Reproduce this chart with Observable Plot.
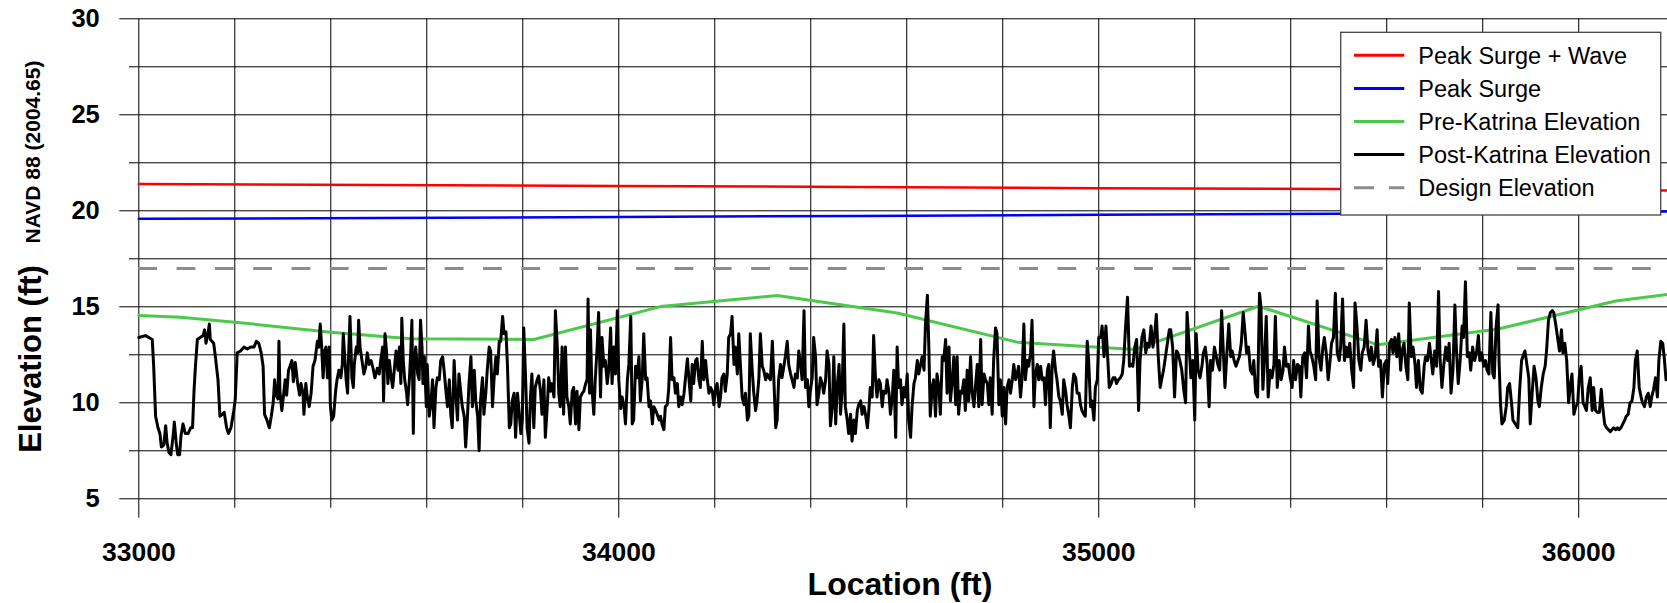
<!DOCTYPE html>
<html>
<head>
<meta charset="utf-8">
<script src="https://cdn.jsdelivr.net/npm/d3@7"></script>
<script src="https://cdn.jsdelivr.net/npm/@observablehq/plot@0.6"></script>
<style>
html,body{margin:0;padding:0;background:#fff;}
svg{display:block;}
</style>
</head>
<body>
<div id="chart"></div>
<script>
// ---------- axis ticks ----------
const yMajorTicks = [5, 10, 15, 20, 25, 30];
const yMinorTicks = [7.5, 12.5, 17.5, 22.5, 27.5];
const yGridLines = [5, 7.5, 10, 12.5, 15, 17.5, 20, 22.5, 25, 27.5, 30];
const xMajorTicks = [33000, 34000, 35000, 36000];
const xMinorTicks = [33200, 33400, 33600, 33800, 34200, 34400, 34600, 34800, 35200, 35400, 35600, 35800];
const xGridLines = [33000, 33200, 33400, 33600, 33800, 34000, 34200, 34400, 34600, 34800, 35000, 35200, 35400, 35600, 35800, 36000];

// ---------- series ----------
const seriesNames = ["Peak Surge + Wave", "Peak Surge", "Pre-Katrina Elevation", "Post-Katrina Elevation", "Design Elevation"];
const seriesColors = ["#ff0000", "#0000ff", "#4cc94c", "#000000", "#8c8c8c"];

const surgeWaveLoc  = [33000, 33500, 34000, 34500, 35000, 35500, 36000, 36185];
const surgeWaveElev = [21.39, 21.34, 21.29, 21.24, 21.18, 21.13, 21.08, 21.06];

const surgeLoc  = [33000, 33500, 34000, 34500, 35000, 35500, 36000, 36185];
const surgeElev = [19.58, 19.63, 19.68, 19.73, 19.79, 19.85, 19.93, 19.96];

const preLoc  = [33000, 33087, 33200, 33400, 33566, 33823, 34087, 34330, 34580, 34830, 35075, 35333, 35582, 35832, 36077, 36185];
const preElev = [14.55, 14.46, 14.20, 13.68, 13.33, 13.30, 15.01, 15.59, 14.68, 13.16, 12.78, 15.03, 13.02, 13.84, 15.30, 15.64];

const designElevation = 17;

const postKatrina = [
[33000,13.4],[33014,13.5],[33028,13.3],[33031,11.9],[33035,9.3],[33040,8.7],[33044,8.4],[33047,7.7],[33052,7.8],[33056,8.8],[33059,7.9],[33063,7.4],[33067,7.3],[33072,8.4],[33074,9.0],[33078,7.9],[33081,7.3],[33085,7.3],[33088,8.3],[33092,8.9],[33097,8.4],[33103,8.4],[33108,8.7],[33112,8.7],[33115,10.6],[33118,11.9],[33122,13.3],[33128,13.4],[33134,13.5],[33137,13.8],[33140,13.1],[33144,13.6],[33147,14.1],[33149,13.3],[33156,13.1],[33160,12.3],[33165,11.2],[33169,9.3],[33174,9.4],[33178,9.5],[33183,8.7],[33187,8.4],[33192,8.7],[33198,9.6],[33201,10.2],[33205,12.6],[33212,12.7],[33219,12.9],[33226,12.8],[33233,12.9],[33240,12.9],[33245,13.2],[33250,13.1],[33255,12.6],[33259,11.9],[33262,9.4],[33267,9.1],[33272,8.7],[33276,9.3],[33280,10.0],[33283,11.2],[33286,10.4],[33290,10.2],[33292,13.2],[33294,10.6],[33298,9.6],[33302,10.5],[33305,11.2],[33308,10.4],[33312,11.7],[33315,11.9],[33319,12.2],[33322,11.1],[33326,12.1],[33331,11.0],[33335,10.4],[33338,11.0],[33342,10.5],[33344,9.4],[33348,11.0],[33351,10.3],[33355,9.8],[33359,10.5],[33363,11.9],[33367,12.2],[33372,13.2],[33375,12.9],[33378,14.1],[33381,12.9],[33384,11.3],[33387,12.7],[33390,12.9],[33393,11.3],[33397,12.9],[33399,9.9],[33402,9.1],[33406,9.3],[33410,10.6],[33413,11.2],[33417,11.7],[33421,11.3],[33424,12.0],[33426,13.6],[33429,12.4],[33432,11.2],[33435,10.5],[33437,12.4],[33440,14.5],[33442,12.9],[33444,11.3],[33447,10.8],[33449,12.0],[33453,12.9],[33456,12.6],[33458,14.3],[33461,12.9],[33465,12.2],[33469,11.5],[33473,11.9],[33476,12.6],[33480,12.0],[33484,12.2],[33488,11.8],[33492,11.3],[33497,11.8],[33501,11.5],[33504,12.2],[33508,12.9],[33510,10.1],[33513,13.6],[33516,12.7],[33519,11.0],[33522,12.2],[33526,11.3],[33529,10.8],[33533,11.9],[33536,12.7],[33540,11.7],[33543,12.9],[33546,11.0],[33548,14.4],[33551,12.2],[33554,11.2],[33558,10.5],[33560,9.9],[33564,11.3],[33567,12.9],[33569,14.3],[33572,8.4],[33574,11.9],[33577,12.9],[33581,11.5],[33584,11.2],[33587,14.3],[33590,12.9],[33592,11.0],[33595,12.4],[33599,9.8],[33601,12.0],[33605,9.3],[33608,9.8],[33612,11.2],[33615,8.7],[33619,10.8],[33622,11.3],[33626,11.2],[33629,12.2],[33633,12.4],[33636,11.7],[33640,10.6],[33643,9.8],[33647,11.2],[33650,9.4],[33653,8.7],[33657,12.2],[33660,10.6],[33664,9.1],[33667,11.5],[33671,10.5],[33674,9.8],[33678,9.3],[33681,7.7],[33685,9.4],[33688,11.0],[33692,12.4],[33695,9.8],[33699,11.7],[33702,10.1],[33706,9.3],[33709,7.5],[33712,10.1],[33716,11.3],[33719,9.4],[33723,10.5],[33726,11.7],[33730,12.9],[33733,12.7],[33737,9.8],[33740,11.2],[33744,12.4],[33747,11.5],[33751,13.2],[33754,13.2],[33758,14.5],[33761,13.6],[33765,13.7],[33768,12.0],[33772,8.7],[33775,8.9],[33778,10.1],[33782,10.5],[33785,8.2],[33789,10.5],[33792,9.6],[33796,8.4],[33799,9.1],[33802,13.9],[33806,11.2],[33809,8.7],[33813,7.9],[33816,10.3],[33819,11.5],[33823,8.7],[33826,10.8],[33830,11.2],[33833,11.4],[33837,10.6],[33840,9.4],[33844,11.2],[33847,8.2],[33851,9.8],[33854,11.3],[33858,10.6],[33861,11.0],[33865,10.3],[33868,14.8],[33872,12.9],[33875,10.5],[33878,9.8],[33882,12.9],[33885,9.4],[33889,12.9],[33892,10.3],[33896,9.8],[33899,8.9],[33903,10.6],[33906,10.8],[33910,8.9],[33913,10.6],[33917,8.6],[33920,10.3],[33924,10.5],[33927,10.6],[33931,11.0],[33934,11.2],[33936,15.4],[33939,10.5],[33941,13.8],[33944,10.8],[33948,9.4],[33951,11.2],[33955,12.9],[33958,14.7],[33962,10.3],[33965,13.4],[33969,11.9],[33972,12.2],[33976,11.0],[33979,11.7],[33983,13.9],[33986,11.0],[33990,12.9],[33993,11.5],[33997,14.8],
[34000,11.2],[34004,9.7],[34007,10.3],[34011,9.8],[34014,8.9],[34018,11.2],[34021,12.0],[34025,14.5],[34028,8.9],[34031,9.1],[34035,11.9],[34038,11.3],[34042,12.4],[34045,10.1],[34049,11.3],[34052,13.6],[34056,11.2],[34059,11.3],[34063,9.8],[34066,10.1],[34070,8.9],[34073,9.8],[34077,9.6],[34080,9.4],[34084,9.1],[34087,9.3],[34090,8.9],[34094,8.6],[34097,9.8],[34101,9.9],[34104,10.7],[34108,13.4],[34111,11.2],[34115,11.3],[34118,10.5],[34122,11.0],[34125,9.8],[34129,10.3],[34132,9.9],[34136,10.5],[34139,11.3],[34143,12.3],[34146,11.3],[34150,10.1],[34153,12.0],[34156,11.0],[34160,12.2],[34163,12.3],[34167,11.2],[34170,10.8],[34174,13.2],[34177,11.2],[34181,12.2],[34184,11.3],[34188,10.5],[34191,10.8],[34195,10.6],[34198,9.9],[34202,10.8],[34205,11.0],[34209,9.8],[34212,10.3],[34215,11.3],[34219,11.5],[34222,10.6],[34226,11.5],[34229,13.4],[34233,13.6],[34236,14.5],[34240,12.0],[34243,12.9],[34247,11.5],[34250,13.6],[34254,11.7],[34257,10.3],[34261,9.9],[34264,10.5],[34268,9.1],[34271,9.3],[34274,13.6],[34278,11.7],[34281,10.6],[34285,9.6],[34288,10.1],[34292,11.3],[34295,13.6],[34299,11.9],[34302,11.7],[34306,11.2],[34309,11.5],[34313,11.3],[34316,11.2],[34320,13.2],[34323,11.3],[34327,8.7],[34330,9.1],[34333,11.2],[34337,12.0],[34340,11.3],[34344,11.9],[34347,12.4],[34351,13.2],[34354,12.0],[34358,11.5],[34361,11.2],[34365,10.8],[34368,11.5],[34372,11.3],[34375,12.7],[34379,12.0],[34382,11.2],[34386,14.8],[34389,10.8],[34393,11.2],[34396,9.8],[34399,10.6],[34403,11.3],[34406,13.4],[34410,12.4],[34413,9.9],[34417,10.5],[34420,11.3],[34424,11.0],[34427,10.5],[34431,11.2],[34434,12.7],[34438,12.0],[34441,8.8],[34445,9.8],[34448,12.4],[34452,8.9],[34455,10.8],[34459,12.0],[34462,9.4],[34465,10.5],[34469,14.1],[34472,9.8],[34476,9.1],[34479,8.4],[34483,9.4],[34486,8.0],[34490,9.1],[34493,8.4],[34497,9.6],[34500,9.9],[34504,10.1],[34507,9.4],[34511,9.8],[34514,9.4],[34518,8.7],[34521,9.6],[34524,10.8],[34528,10.3],[34531,13.5],[34535,11.2],[34538,10.3],[34542,11.2],[34545,11.0],[34549,9.8],[34552,10.6],[34556,10.5],[34559,11.2],[34563,10.5],[34566,9.4],[34570,10.3],[34573,11.7],[34577,8.2],[34580,12.9],[34583,10.8],[34587,11.2],[34590,9.9],[34594,10.8],[34597,10.3],[34601,11.5],[34604,9.1],[34608,8.2],[34611,9.8],[34615,11.0],[34618,11.3],[34622,12.2],[34625,11.5],[34629,12.0],[34632,12.4],[34636,11.7],[34639,14.1],[34643,15.6],[34646,12.9],[34649,9.3],[34653,10.8],[34656,11.2],[34660,9.3],[34663,11.5],[34667,10.8],[34670,9.4],[34674,12.4],[34677,12.2],[34681,13.3],[34684,10.5],[34688,12.9],[34691,10.1],[34695,11.2],[34698,12.4],[34702,9.9],[34705,12.4],[34708,9.4],[34712,10.6],[34715,10.5],[34719,11.2],[34722,9.6],[34726,11.7],[34729,10.1],[34733,12.4],[34736,10.6],[34740,9.8],[34743,10.8],[34747,12.0],[34750,9.8],[34754,13.3],[34757,9.9],[34761,11.5],[34764,11.2],[34768,11.0],[34771,9.9],[34774,11.3],[34778,9.4],[34781,12.2],[34785,13.9],[34788,13.6],[34792,9.9],[34795,11.2],[34799,9.3],[34802,10.8],[34806,8.9],[34809,10.8],[34813,11.2],[34816,10.5],[34820,11.2],[34823,12.0],[34827,11.2],[34830,11.5],[34833,11.9],[34837,10.3],[34840,11.2],[34844,14.1],[34847,11.2],[34851,12.2],[34854,11.9],[34858,12.6],[34861,14.3],[34865,9.8],[34868,11.5],[34872,12.0],[34875,11.2],[34879,11.9],[34882,11.2],[34886,11.3],[34889,9.9],[34893,11.7],[34896,12.0],[34899,8.7],[34903,11.9],[34906,12.7],[34910,11.7],[34913,11.2],[34917,10.3],[34920,10.1],[34924,9.4],[34927,11.2],[34931,10.6],[34934,9.9],[34938,9.3],[34941,8.7],[34945,10.8],[34948,11.5],[34952,11.3],[34955,10.5],[34959,10.5],[34962,9.9],[34965,9.6],[34969,9.4],[34972,9.3],[34976,13.2],[34979,12.2],[34983,9.8],[34986,10.1],[34990,9.1],[34993,10.8],[34997,11.2],[35000,13.4],
[35004,13.4],[35007,14.0],[35011,12.4],[35015,14.0],[35019,12.2],[35022,10.8],[35026,11.0],[35030,11.3],[35034,11.3],[35037,11.0],[35041,11.2],[35045,11.3],[35049,11.5],[35052,12.2],[35056,14.0],[35060,15.5],[35064,11.9],[35068,12.0],[35071,11.9],[35075,12.9],[35079,13.3],[35083,9.6],[35086,12.2],[35090,13.4],[35094,13.8],[35098,12.6],[35101,13.1],[35105,12.9],[35109,14.0],[35113,12.9],[35116,13.4],[35120,14.6],[35124,12.4],[35128,10.8],[35131,11.2],[35135,11.7],[35139,12.4],[35143,13.1],[35147,13.8],[35150,13.8],[35154,12.9],[35158,10.3],[35162,12.7],[35165,12.6],[35169,12.2],[35173,11.7],[35177,10.7],[35181,10.0],[35184,14.7],[35188,13.1],[35192,11.3],[35196,12.2],[35200,9.1],[35203,13.6],[35207,11.7],[35211,11.3],[35215,11.9],[35218,12.6],[35222,12.9],[35226,12.0],[35230,9.8],[35233,12.2],[35237,11.7],[35241,12.9],[35245,12.4],[35248,12.0],[35252,11.7],[35256,14.8],[35260,12.4],[35263,10.8],[35267,12.6],[35271,14.1],[35275,12.4],[35278,12.7],[35282,12.2],[35286,11.9],[35290,12.2],[35293,12.4],[35297,13.1],[35301,14.7],[35305,13.6],[35308,12.6],[35312,12.9],[35316,11.7],[35320,11.5],[35323,12.2],[35327,10.5],[35331,10.3],[35335,15.7],[35338,15.0],[35342,10.7],[35346,12.6],[35349,14.5],[35353,10.3],[35357,11.7],[35361,11.3],[35365,12.0],[35368,14.5],[35372,10.8],[35376,12.2],[35380,11.2],[35384,11.7],[35387,12.9],[35391,11.9],[35395,12.0],[35399,11.3],[35403,10.8],[35406,12.2],[35410,11.2],[35414,12.0],[35418,11.9],[35421,10.3],[35425,12.4],[35429,12.6],[35433,11.3],[35437,14.0],[35440,12.7],[35444,12.4],[35448,11.9],[35452,11.2],[35455,15.3],[35459,12.4],[35463,11.7],[35467,12.9],[35470,13.4],[35474,12.6],[35478,11.2],[35482,12.2],[35485,13.1],[35489,13.4],[35493,15.7],[35497,12.6],[35501,12.2],[35504,12.9],[35508,15.4],[35512,12.2],[35516,12.9],[35519,12.4],[35523,13.1],[35527,11.7],[35531,10.8],[35534,15.2],[35538,14.0],[35542,12.2],[35546,11.7],[35549,12.6],[35553,12.9],[35557,14.3],[35561,12.7],[35565,12.2],[35568,12.9],[35572,12.0],[35576,12.4],[35580,13.8],[35583,11.9],[35587,12.2],[35591,10.3],[35595,12.0],[35599,12.2],[35602,11.0],[35606,13.1],[35610,13.3],[35613,12.6],[35617,13.4],[35621,12.4],[35625,13.6],[35629,11.7],[35632,12.7],[35636,13.1],[35640,11.9],[35644,11.2],[35647,15.2],[35651,12.4],[35655,12.9],[35659,12.0],[35662,10.8],[35666,12.2],[35670,10.7],[35674,10.5],[35678,11.9],[35681,12.4],[35685,12.2],[35689,13.1],[35693,12.2],[35696,11.5],[35700,12.7],[35704,11.9],[35708,15.8],[35711,12.4],[35715,10.8],[35719,12.0],[35723,12.9],[35727,12.2],[35730,13.1],[35734,10.5],[35738,11.7],[35742,15.1],[35745,12.9],[35749,11.0],[35753,12.2],[35757,14.0],[35760,13.4],[35764,16.3],[35768,12.4],[35772,12.6],[35775,11.7],[35779,12.9],[35783,12.2],[35787,12.6],[35791,13.5],[35794,12.2],[35798,12.6],[35802,11.9],[35806,12.2],[35809,11.7],[35813,11.5],[35817,14.7],[35821,11.5],[35824,11.3],[35828,14.0],[35832,15.1],[35834,12.2],[35837,10.0],[35840,8.9],[35845,9.1],[35849,9.8],[35852,10.8],[35856,11.0],[35860,10.0],[35863,9.1],[35868,8.9],[35873,8.7],[35877,10.7],[35881,12.2],[35885,12.5],[35888,12.7],[35892,12.0],[35896,11.3],[35899,8.9],[35903,10.5],[35907,11.9],[35911,11.3],[35915,10.1],[35918,9.8],[35922,10.8],[35926,11.5],[35930,11.9],[35933,12.7],[35937,14.3],[35941,14.7],[35945,14.8],[35948,14.7],[35952,14.1],[35956,13.4],[35960,12.7],[35964,13.8],[35967,12.6],[35971,13.1],[35975,12.2],[35979,10.0],[35983,11.0],[35986,11.5],[35990,9.4],[35994,9.8],[35998,10.0],[36001,11.3],[36005,11.9],[36009,10.0],[36013,9.8],[36016,9.6],[36020,10.8],[36024,11.3],[36028,9.6],[36031,10.8],[36035,9.6],[36039,9.5],[36043,9.5],[36047,10.7],[36050,9.8],[36054,8.9],[36058,8.7],[36066,8.5],[36073,8.7],[36077,8.6],[36081,8.7],[36084,8.6],[36088,8.7],[36092,8.9],[36096,9.1],[36099,9.3],[36103,9.4],[36107,10.0],[36111,10.1],[36115,10.8],[36118,12.2],[36122,12.7],[36126,10.8],[36130,10.3],[36133,10.0],[36137,9.8],[36141,10.3],[36145,10.5],[36149,9.8],[36152,10.3],[36156,10.7],[36160,11.3],[36164,10.3],[36167,12.2],[36171,13.2],[36175,13.1],[36178,12.4],[36182,11.2],[36184,11.3]
];

// ---------- tables built from the arrays ----------
const surgeWave = surgeWaveLoc.map((x, i) => ({x, y: surgeWaveElev[i]}));
const surge = surgeLoc.map((x, i) => ({x, y: surgeElev[i]}));
const pre = preLoc.map((x, i) => ({x, y: preElev[i]}));
const post = postKatrina.map(([x, y]) => ({x, y}));

const FONT = "'Liberation Sans', Arial, Helvetica, sans-serif";

const chart = Plot.plot({
  width: 1667,
  height: 603,
  marginLeft: 138.3,
  marginRight: 0,
  marginTop: 18.3,
  marginBottom: 104.7,
  x: {domain: [33000, 36185]},
  y: {domain: [5, 30]},
  style: {fontFamily: FONT, background: "#fff", color: "#000", overflow: "visible"},
  marks: [
    Plot.gridX(xGridLines, {stroke: "#000", strokeOpacity: 1, strokeWidth: 1}),
    Plot.gridY(yGridLines, {stroke: "#000", strokeOpacity: 1, strokeWidth: 1}),
    Plot.axisY(yMajorTicks, {anchor: "left", tickSize: 19, tickPadding: 20, fontSize: 25.5, fontWeight: "bold", label: null, tickFormat: d => String(d)}),
    Plot.axisY(yMinorTicks, {anchor: "left", tickSize: 9.3, tickFormat: () => "", label: null}),
    Plot.axisX(xMajorTicks, {anchor: "bottom", tickSize: 19.4, tickPadding: 24, fontSize: 26.5, fontWeight: "bold", label: null, tickFormat: d => String(d)}),
    Plot.axisX(xMinorTicks, {anchor: "bottom", tickSize: 9.4, tickFormat: () => "", label: null}),
    Plot.ruleY([designElevation], {stroke: seriesColors[4], strokeWidth: 3, strokeDasharray: "18.8,19.5"}),
    Plot.line(surgeWave, {x: "x", y: "y", stroke: seriesColors[0], strokeWidth: 2.5}),
    Plot.line(surge, {x: "x", y: "y", stroke: seriesColors[1], strokeWidth: 2.5}),
    Plot.line(pre, {x: "x", y: "y", stroke: seriesColors[2], strokeWidth: 3}),
    Plot.line(post, {x: "x", y: "y", stroke: seriesColors[3], strokeWidth: 3, strokeLinejoin: "round"})
  ]
});

document.getElementById("chart").appendChild(chart);

const svg = d3.select(chart);
svg.selectAll("text").style("font-family", FONT);

// y axis titles
svg.append("text")
  .attr("transform", "translate(40.5,359) rotate(-90)")
  .attr("text-anchor", "middle")
  .attr("fill", "#000")
  .style("font-family", FONT).style("font-weight", "bold").style("font-size", "31px")
  .text("Elevation (ft)");
svg.append("text")
  .attr("transform", "translate(40,152) rotate(-90)")
  .attr("text-anchor", "middle")
  .attr("fill", "#000")
  .style("font-family", FONT).style("font-weight", "bold").style("font-size", "21px")
  .text("NAVD 88 (2004.65)");

// x axis title
svg.append("text")
  .attr("x", 900).attr("y", 595)
  .attr("text-anchor", "middle")
  .attr("fill", "#000")
  .style("font-family", FONT).style("font-weight", "bold").style("font-size", "32px")
  .text("Location (ft)");

// legend
const lg = svg.append("g").attr("text-anchor", "start");
lg.append("rect")
  .attr("x", 1340.7).attr("y", 32.3).attr("width", 320).attr("height", 182.7)
  .attr("fill", "#fff").attr("stroke", "#444").attr("stroke-width", 1.3);
const rowY = [55.3, 88.4, 121.5, 154.6, 187.7];
seriesNames.forEach((name, i) => {
  lg.append("line")
    .attr("x1", 1354).attr("x2", 1404.3).attr("y1", rowY[i]).attr("y2", rowY[i])
    .attr("stroke", seriesColors[i]).attr("stroke-width", 3)
    .attr("stroke-dasharray", i === 4 ? "20,15" : null);
  lg.append("text")
    .attr("x", 1418.3).attr("y", rowY[i] + 8.5)
    .attr("text-anchor", "start")
    .attr("fill", "#000")
    .style("font-family", FONT).style("font-size", "23.5px")
    .text(name);
});
</script>
</body>
</html>
